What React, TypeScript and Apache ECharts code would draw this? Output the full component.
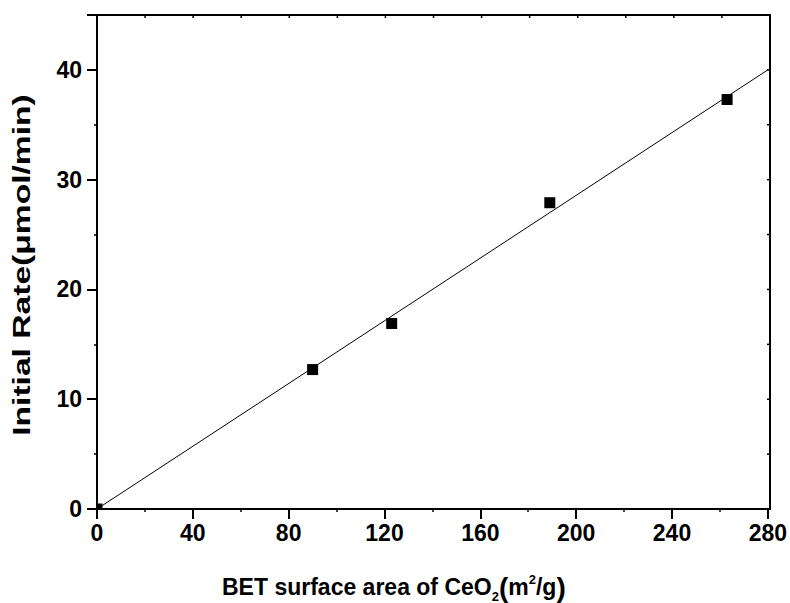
import React, { useEffect, useRef } from "react";
import * as echarts from "echarts";

const surfaceArea = [0, 90, 123, 189, 263];
const initialRate = [0, 12.7, 16.9, 27.9, 37.3];
const fitX = [0, 280];
const fitY = [0, 40];
const xTicks = [0, 40, 80, 120, 160, 200, 240, 280];
const yTicks = [0, 10, 20, 30, 40];
const yMax = 45;

const FONT = '"Liberation Sans", Arial, Helvetica, sans-serif';

const G_LEFT = 97;
const G_TOP = 15;
const G_W = 673;
const G_H = 494;

export default function App() {
  const ref = useRef<HTMLDivElement>(null);
  useEffect(() => {
    document.body.style.margin = "0";
    const chart = echarts.init(ref.current!, null, { renderer: "svg" });
    const mkLine = () => ({ show: true, onZero: false, lineStyle: { color: "#000", width: 2 } });
    const scatterData = surfaceArea.map((x, i) => {
      if (i === 0) {
        return { value: [x, initialRate[i]], symbolSize: 6, symbolOffset: [2.5, -2.5] };
      }
      return { value: [x, initialRate[i]] };
    });
    const xMax = xTicks[xTicks.length - 1];
    const frame: any[] = [
      {
        type: "rect",
        z: 100,
        silent: true,
        shape: { x: G_LEFT, y: G_TOP, width: G_W, height: G_H },
        style: { fill: "none", stroke: "#000", lineWidth: 2 },
      },
    ];
    // small inward ticks on top (every 20) and right (every 5) edges
    for (let v = 20; v < xMax; v += 20) {
      const px = G_LEFT + (v / xMax) * G_W;
      frame.push({
        type: "line",
        z: 100,
        silent: true,
        shape: { x1: px, y1: G_TOP, x2: px, y2: G_TOP + 3 },
        style: { stroke: "#000", lineWidth: 1.5 },
      });
    }
    for (let v = 5; v < yMax; v += 5) {
      const py = G_TOP + G_H - (v / yMax) * G_H;
      frame.push({
        type: "line",
        z: 100,
        silent: true,
        shape: { x1: G_LEFT + G_W - 3, y1: py, x2: G_LEFT + G_W, y2: py },
        style: { stroke: "#000", lineWidth: 1.5 },
      });
    }
    chart.setOption({
      animation: false,
      backgroundColor: "#fff",
      grid: { left: G_LEFT, right: 790 - G_LEFT - G_W, top: G_TOP, bottom: 603 - G_TOP - G_H, containLabel: false },
      xAxis: [
        {
          type: "value",
          min: xTicks[0],
          max: xMax,
          interval: 40,
          position: "bottom",
          axisLine: mkLine(),
          axisTick: { show: true, length: 10, lineStyle: { color: "#000", width: 2 } },
          minorTick: { show: true, splitNumber: 2, length: 3, lineStyle: { color: "#000", width: 1.5 } },
          splitLine: { show: false },
          axisLabel: { color: "#000", fontSize: 23, fontWeight: "bold", fontFamily: FONT, margin: 12 },
        },
      ],
      yAxis: [
        {
          type: "value",
          min: yTicks[0],
          max: yMax,
          interval: 10,
          position: "left",
          axisLine: mkLine(),
          axisTick: { show: true, length: 10, lineStyle: { color: "#000", width: 2 } },
          minorTick: { show: true, splitNumber: 2, length: 3, lineStyle: { color: "#000", width: 1.5 } },
          splitLine: { show: false },
          axisLabel: {
            color: "#000",
            fontSize: 23,
            fontWeight: "bold",
            fontFamily: FONT,
            margin: 15,
            formatter: (v: number) => (yTicks.includes(v) ? String(v) : ""),
          },
        },
      ],
      graphic: [
        {
          type: "text",
          x: 222,
          y: 587,
          style: {
            text: "{a|BET surface area of CeO}{s|2}{b|(}{a|m}{p|2}{a|/g}{b|)}",
            verticalAlign: "middle",
            align: "left",
            fill: "#000",
            rich: {
              a: { fontSize: 23, fontWeight: "bold", fontFamily: FONT, fill: "#000", lineHeight: 28 },
              b: { fontSize: 28, fontWeight: "bold", fontFamily: FONT, fill: "#000", lineHeight: 28 },
              s: { fontSize: 13, fontWeight: "bold", fontFamily: FONT, fill: "#000", verticalAlign: "bottom", lineHeight: 28, padding: [0, 0, -2, 0] },
              p: { fontSize: 13, fontWeight: "bold", fontFamily: FONT, fill: "#000", verticalAlign: "top", lineHeight: 28 },
            },
          },
        },
        {
          type: "text",
          x: 22,
          y: 265,
          rotation: Math.PI / 2,
          scaleX: 1.4,
          style: {
            text: "Initial Rate(\u03bcmol/min)",
            align: "center",
            verticalAlign: "middle",
            fontSize: 24,
            fontWeight: "bold",
            fontFamily: FONT,
            fill: "#000",
          },
        },
        ...frame,
      ],
      series: [
        {
          type: "line",
          data: fitX.map((x, i) => [x, fitY[i]]),
          showSymbol: false,
          symbol: "none",
          lineStyle: { color: "#000", width: 1 },
          z: 2,
        },
        {
          type: "scatter",
          data: scatterData,
          symbol: "rect",
          symbolSize: 11,
          itemStyle: { color: "#000", opacity: 1 },
          z: 3,
        },
      ],
    });
    return () => chart.dispose();
  }, []);
  return <div ref={ref} style={{ width: 790, height: 603 }} />;
}
